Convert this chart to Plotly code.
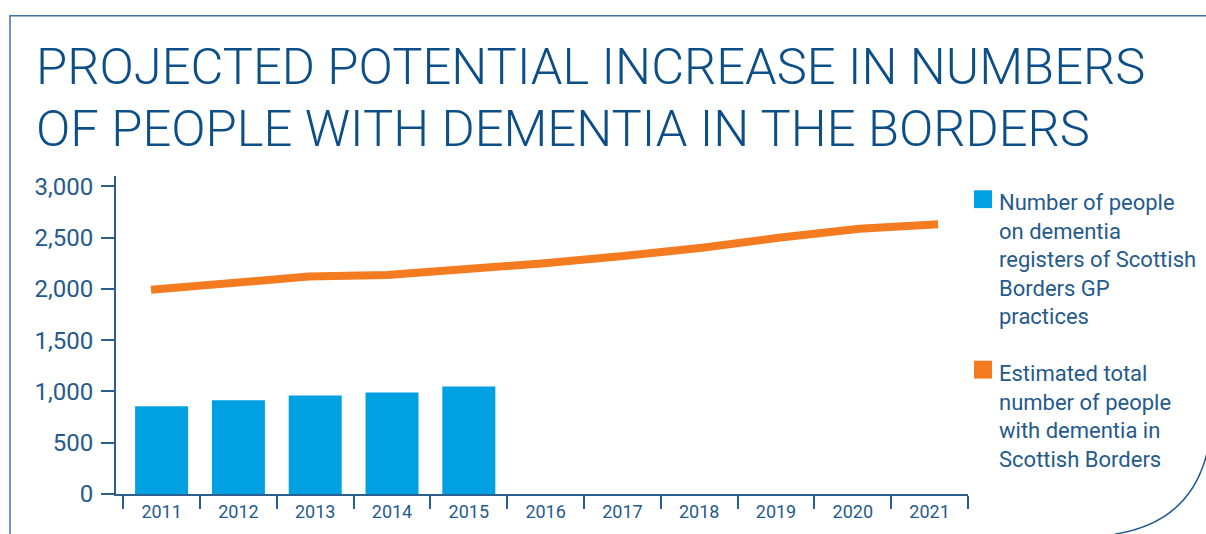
import plotly.graph_objects as go

# ---------------- data ----------------
years = ["2011", "2012", "2013", "2014", "2015", "2016",
         "2017", "2018", "2019", "2020", "2021"]
register_years = ["2011", "2012", "2013", "2014", "2015"]
registered = [855, 913, 961, 990, 1048]
estimated = [1990, 2055, 2120, 2135, 2190, 2250, 2320, 2400, 2500, 2585, 2630]
y_tick_values = [0, 500, 1000, 1500, 2000, 2500, 3000]
y_tick_labels = ["0", "500", "1,000", "1,500", "2,000", "2,500", "3,000"]
title_lines = ["PROJECTED POTENTIAL INCREASE IN NUMBERS",
               "OF PEOPLE WITH DEMENTIA IN THE BORDERS"]
bar_name = "Number of people<br>on dementia<br>registers of Scottish<br>Borders GP<br>practices"
line_name = "Estimated total<br>number of people<br>with dementia in<br>Scottish Borders"

# ---------------- style ----------------
BLUE_BAR = "#00A0E2"
ORANGE = "#F47B20"
TITLE_C = "#0C4E87"
AXIS_C = "#2C5E8F"
TEXT_C = "#255A8C"
FONT = "Roboto, 'Open Sans', sans-serif"

W, H = 1206, 534
L, R, T, B = 116, 238, 175.6, 37.5
pw, ph = W - L - R, H - T - B


def px(x):
    return (x - L) / pw


def py(y):
    return (H - B - y) / ph


fig = go.Figure()
fig.add_trace(go.Bar(x=register_years, y=registered, marker_color=BLUE_BAR,
                     marker_line_width=0, name="registered", showlegend=False))
fig.add_trace(go.Scatter(x=years, y=estimated, mode="lines", xaxis="x2",
                         line=dict(color=ORANGE, width=8), name="estimated",
                         showlegend=False))

annotations = []
# title lines
for i, line in enumerate(title_lines):
    annotations.append(dict(text=line, xref="paper", yref="paper",
                            x=px(34), y=py(65 + i * 63), xanchor="left",
                            yanchor="middle", showarrow=False,
                            font=dict(family=FONT, size=50.7, color=TITLE_C, weight=300)))
# legend texts
annotations.append(dict(text=bar_name, xref="paper", yref="paper", x=px(997), y=py(188),
                        xanchor="left", yanchor="top", align="left", showarrow=False,
                        font=dict(family=FONT, size=22, color=TEXT_C)))
annotations.append(dict(text=line_name, xref="paper", yref="paper", x=px(997), y=py(360),
                        xanchor="left", yanchor="top", align="left", showarrow=False,
                        font=dict(family=FONT, size=22, color=TEXT_C)))

shapes = [
    dict(type="rect", xref="paper", yref="paper", x0=px(974), x1=px(992),
         y0=py(190), y1=py(208), fillcolor=BLUE_BAR, line_width=0),
    dict(type="rect", xref="paper", yref="paper", x0=px(974), x1=px(992),
         y0=py(362), y1=py(380), fillcolor=ORANGE, line_width=0),
    # frame
    dict(type="path", xref="paper", yref="paper",
         path=f"M {px(1210)},{py(14)} L {px(10)},{py(14)} L {px(10)},{py(540)}",
         line=dict(color="#3F72A2", width=1.5)),
    # corner arc
    dict(type="path", xref="paper", yref="paper",
         path=f"M {px(1207)},{py(455)} Q {px(1190)},{py(525)} {px(1115)},{py(537)}",
         line=dict(color="#1F5A8E", width=1.5)),
]

fig.update_layout(
    width=W, height=H,
    margin=dict(l=L, r=R, t=T, b=B, pad=0),
    paper_bgcolor="white", plot_bgcolor="white",
    bargap=0.31,
    showlegend=False,
    annotations=annotations,
    shapes=shapes,
    xaxis=dict(type="category", categoryorder="array", categoryarray=years,
               range=[-0.594, 10.5], showline=True, linecolor=AXIS_C, linewidth=2,
               ticks="outside", tickson="boundaries", ticklen=13, tickwidth=1.5,
               tickcolor=AXIS_C, showgrid=False, zeroline=False,
               ticklabelstandoff=0,
               tickfont=dict(family=FONT, size=18, color=TEXT_C)),
    xaxis2=dict(type="category", categoryorder="array", categoryarray=years,
                overlaying="x", range=[-0.445, 10.38], visible=False),
    yaxis=dict(range=[0, 3100], tickvals=y_tick_values, ticktext=y_tick_labels,
               showline=True, linecolor=AXIS_C, linewidth=2, ticks="outside",
               ticklen=13, tickwidth=1.5, tickcolor=AXIS_C, showgrid=False,
               zeroline=False, ticklabelstandoff=3,
               tickfont=dict(family=FONT, size=24, color=TEXT_C)),
)

fig.write_html("out.html", config={"displayModeBar": False},
               post_script="document.body.style.margin='0';document.body.style.overflow='hidden';")
